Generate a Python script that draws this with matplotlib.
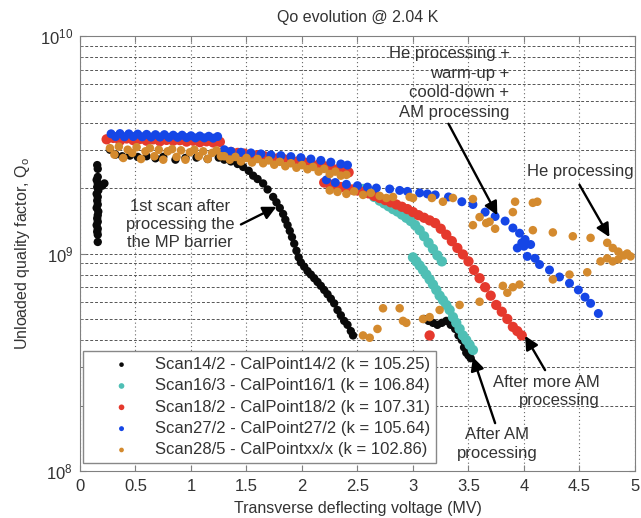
import matplotlib
matplotlib.use("Agg")
import matplotlib.pyplot as plt
from matplotlib.ticker import FixedLocator, FuncFormatter, LogLocator, NullFormatter

plt.rcParams['font.family'] = ['Liberation Sans', 'DejaVu Sans']
plt.rcParams['mathtext.default'] = 'regular'

title = "Qo evolution @ 2.04 K"
xlabel = "Transverse deflecting voltage (MV)"
ylabel = "Unloaded quality factor, Q$_o$"
xticks = [0, 0.5, 1, 1.5, 2, 2.5, 3, 3.5, 4, 4.5, 5]

labels = ["Scan14/2 - CalPoint14/2 (k = 105.25)",
          "Scan16/3 - CalPoint16/1 (k = 106.84)",
          "Scan18/2 - CalPoint18/2 (k = 107.31)",
          "Scan27/2 - CalPoint27/2 (k = 105.64)",
          "Scan28/5 - CalPointxx/x (k = 102.86)"]
colors = ["#0a0a0a", "#4fbfb5", "#e5392d", "#1546e6", "#d48a2e"]

# --- Scan14/2 (black), Q in units of 1e9
black_x = [0.155, 0.16, 0.16, 0.15, 0.16, 0.155, 0.165, 0.15, 0.16, 0.155, 0.16, 0.15, 0.165, 0.16, 0.155,
           0.16, 0.15, 0.16, 0.155, 0.16, 0.20, 0.22, 0.16,
           0.27, 0.32, 0.38, 0.45, 0.52, 0.60, 0.68, 0.75, 0.86, 0.95, 1.05, 1.15, 1.25, 1.30,
           1.36, 1.42, 1.47, 1.52, 1.56, 1.60, 1.65, 1.69, 1.74, 1.77, 1.80, 1.83, 1.85, 1.87, 1.89, 1.91,
           1.93, 1.95, 1.97, 1.99, 2.02, 2.05, 2.08, 2.11, 2.14, 2.17, 2.20, 2.23, 2.26, 2.29, 2.32, 2.35,
           2.38, 2.41, 2.44, 2.46,
           3.10, 3.14, 3.18, 3.22, 3.26, 3.30, 3.34, 3.38, 3.41, 3.44, 3.46, 3.48, 3.50, 3.52, 3.47, 3.50]
black_q = [2.55, 2.45, 2.25, 2.18, 2.10, 2.02, 1.95, 1.88, 1.82, 1.75, 1.68, 1.62, 1.56, 1.50, 1.45,
           1.40, 1.35, 1.30, 1.26, 1.22, 2.05, 2.10, 1.13,
           3.00, 2.85, 2.80, 2.82, 2.78, 2.80, 2.74, 2.78, 2.70, 2.75, 2.76, 2.72, 2.76, 2.70,
           2.65, 2.58, 2.50, 2.40, 2.28, 2.20, 2.10, 1.97, 1.82, 1.72, 1.62, 1.52, 1.43, 1.35, 1.27, 1.19,
           1.11, 1.03, 0.96, 0.91, 0.87, 0.83, 0.80, 0.77, 0.74, 0.71, 0.68, 0.65, 0.62, 0.59, 0.55, 0.52,
           0.49, 0.47, 0.44, 0.42,
           0.50, 0.49, 0.48, 0.47, 0.48, 0.49, 0.47, 0.45, 0.42, 0.40, 0.37, 0.35, 0.34, 0.33, 0.38, 0.36]

# --- Scan16/3 (teal)
teal_x = [2.55, 2.60, 2.65, 2.70, 2.74, 2.78, 2.82, 2.86, 2.90, 2.94, 2.98, 3.02, 3.06, 3.10, 3.14, 3.18, 3.22, 3.26,
          3.00, 3.03, 3.06, 3.09, 3.12, 3.15, 3.18, 3.21, 3.24, 3.27, 3.30, 3.33, 3.36, 3.39, 3.42, 3.45, 3.48, 3.51, 3.54]
teal_q = [1.98, 1.90, 1.82, 1.75, 1.70, 1.65, 1.60, 1.56, 1.51, 1.46, 1.41, 1.35, 1.28, 1.20, 1.12, 1.05, 0.98, 0.92,
          0.96, 0.92, 0.88, 0.84, 0.80, 0.76, 0.72, 0.68, 0.64, 0.61, 0.58, 0.55, 0.51, 0.48, 0.45, 0.42, 0.40, 0.38, 0.36]

# --- Scan18/2 (red)
red_x = [0.24, 0.30, 0.36, 0.42, 0.48, 0.54, 0.60, 0.66, 0.72, 0.78, 0.84, 0.90, 0.96, 1.02, 1.08, 1.14, 1.20, 1.26,
         1.30, 1.36, 1.42, 1.48, 1.54, 1.60, 1.66, 1.72, 1.78, 1.84, 1.90, 1.96, 2.02, 2.08, 2.14, 2.20, 2.26, 2.32,
         2.38, 2.42,
         2.20, 2.25, 2.30, 2.35, 2.40, 2.45, 2.50, 2.55, 2.60, 2.65, 2.70, 2.75, 2.80, 2.85, 2.90, 2.95, 3.00, 3.05,
         3.10, 3.15, 3.20, 3.25, 3.30, 3.35, 3.40, 3.45, 3.50, 3.55, 3.60, 3.65, 3.70, 3.75, 3.80, 3.85, 3.90, 3.94,
         3.98, 3.15]
red_q = [3.35, 3.40, 3.30, 3.38, 3.32, 3.36, 3.30, 3.35, 3.28, 3.33, 3.30, 3.32, 3.27, 3.30, 3.25, 3.28, 3.24, 3.26,
         2.95, 2.93, 2.90, 2.88, 2.85, 2.83, 2.80, 2.77, 2.74, 2.71, 2.68, 2.65, 2.62, 2.58, 2.55, 2.52, 2.48, 2.44,
         2.40, 2.36,
         2.12, 2.08, 2.05, 2.02, 1.99, 1.97, 1.95, 1.92, 1.89, 1.84, 1.80, 1.76, 1.72, 1.68, 1.64, 1.60, 1.55, 1.50,
         1.46, 1.42, 1.38, 1.30, 1.22, 1.14, 1.06, 0.99, 0.92, 0.84, 0.77, 0.70, 0.64, 0.58, 0.54, 0.50, 0.46, 0.44,
         0.42, 0.42]

# --- Scan27/2 (blue)
blue_x = [0.28, 0.32, 0.36, 0.40, 0.44, 0.48, 0.52, 0.56, 0.60, 0.64, 0.68, 0.72, 0.76, 0.80, 0.84, 0.88, 0.92,
          0.96, 1.00, 1.04, 1.08, 1.12, 1.16, 1.20, 1.24,
          1.30, 1.36, 1.45, 1.54, 1.63, 1.72, 1.81, 1.90, 1.99, 2.08, 2.17, 2.26, 2.35, 2.41,
          2.22, 2.30, 2.40, 2.50, 2.59, 2.67, 2.79, 2.88, 2.95, 3.06, 3.13, 3.20, 3.32, 3.44, 3.54, 3.65, 3.74,
          3.83, 3.90, 3.96, 4.01, 3.94, 4.00, 4.03, 3.98, 4.06, 4.10, 4.14, 4.23, 4.32, 4.41, 4.49, 4.55, 4.60, 4.67]
blue_q = [3.55, 3.45, 3.56, 3.44, 3.55, 3.45, 3.54, 3.44, 3.53, 3.43, 3.52, 3.43, 3.52, 3.42, 3.50, 3.42, 3.50,
          3.41, 3.48, 3.40, 3.47, 3.40, 3.46, 3.39, 3.45,
          3.00, 2.95, 2.92, 2.90, 2.87, 2.84, 2.82, 2.79, 2.76, 2.72, 2.68, 2.63, 2.58, 2.55,
          2.18, 2.12, 2.08, 2.05, 2.02, 2.00, 1.98, 1.95, 1.93, 1.90, 1.88, 1.86, 1.82, 1.73, 1.68, 1.55, 1.48,
          1.41, 1.31, 1.24, 1.16, 1.06, 1.08, 0.97, 1.12, 1.10, 0.95, 0.89, 0.84, 0.78, 0.73, 0.68, 0.63, 0.59, 0.53]

# --- Scan28/5 (orange)
orange_x = [0.27, 0.31, 0.35, 0.39, 0.43, 0.47, 0.51, 0.55, 0.59, 0.63, 0.67, 0.71, 0.75, 0.79, 0.83, 0.87, 0.91,
            0.95, 0.99, 1.03, 1.07, 1.11, 1.15, 1.19, 1.23, 1.27,
            1.30, 1.35, 1.40, 1.45, 1.50, 1.55, 1.60, 1.65, 1.70, 1.75, 1.80, 1.85, 1.90, 1.95, 2.00, 2.05, 2.10,
            2.15, 2.20, 2.25, 2.30, 2.35, 2.40,
            2.25, 2.32, 2.40, 2.47, 2.55, 2.62, 2.70,
            2.76, 2.82, 2.97, 3.00, 3.17, 3.27, 3.36, 3.54, 3.54, 3.60, 3.66, 3.74, 3.69, 3.90, 3.92, 4.08, 4.12,
            4.08, 4.26, 4.44, 4.60, 4.75, 4.80, 4.85, 4.90, 4.93, 4.96, 4.80, 4.85, 4.75, 4.69, 4.57, 4.41, 4.26,
            3.81, 3.85, 3.90, 3.96,
            2.55, 2.61, 2.68, 2.73, 2.88, 2.91, 2.94, 3.09, 3.15, 3.24, 3.42, 3.60]
orange_q = [3.05, 2.85, 3.10, 2.75, 3.00, 2.90, 3.08, 2.72, 2.95, 3.05, 2.80, 3.00, 2.70, 2.95, 3.02, 2.78, 2.98,
            2.70, 2.92, 3.00, 2.80, 2.95, 2.72, 2.90, 2.98, 2.80,
            2.80, 2.70, 2.78, 2.65, 2.75, 2.62, 2.72, 2.60, 2.68, 2.56, 2.64, 2.52, 2.60, 2.48, 2.55, 2.44, 2.50,
            2.38, 2.45, 2.32, 2.38, 2.28, 2.30,
            1.95, 1.92, 1.88, 1.93, 1.86, 1.90, 1.84,
            1.80, 1.82, 1.82, 1.80, 1.80, 1.73, 1.80, 1.78, 1.35, 1.47, 1.38, 1.30, 1.40, 1.55, 1.73, 1.71, 1.73,
            1.28, 1.25, 1.20, 1.18, 1.12, 1.06, 1.02, 0.98, 1.00, 0.97, 0.92, 0.94, 0.95, 0.92, 0.82, 0.80, 0.76,
            0.71, 0.66, 0.70, 0.72,
            0.42, 0.41, 0.45, 0.56, 0.56, 0.49, 0.48, 0.50, 0.51, 0.55, 0.58, 0.60]

series = [(black_x, black_q), (teal_x, teal_q), (red_x, red_q), (blue_x, blue_q), (orange_x, orange_q)]
sizes = [36, 55, 55, 42, 38]

fig = plt.figure(figsize=(6.41, 5.18), dpi=100)
ax = fig.add_axes([0.1248, 0.0907, 0.8658, 0.8398])

for (xs, qs), c, s, lab in zip(series, colors, sizes, labels):
    ax.scatter(xs, [q * 1e9 for q in qs], s=s, color=c, edgecolors='none', label=lab, zorder=3)

ax.set_yscale('log')
ax.set_xlim(0, 5)
ax.set_ylim(1e8, 1e10)
ax.xaxis.set_major_locator(FixedLocator(xticks))
ax.xaxis.set_major_formatter(FuncFormatter(lambda v, p: "%g" % v))
ax.yaxis.set_major_locator(LogLocator(base=10, numticks=5))
ax.yaxis.set_minor_locator(LogLocator(base=10, subs=range(2, 10), numticks=20))
ax.yaxis.set_minor_formatter(NullFormatter())

ax.grid(which='major', axis='x', linestyle=(0, (1, 2.5)), color='#666666', lw=0.8, zorder=0)
ax.grid(which='both', axis='y', linestyle=(0, (3, 2)), color='#555555', lw=0.7, zorder=0)
ax.set_axisbelow(True)

for sp in ax.spines.values():
    sp.set_color('#808080')
ax.tick_params(which='both', direction='in', top=True, right=True, colors='#808080',
               labelcolor='#333333', labelsize=12)
ax.tick_params(axis='x', which='major', length=4, pad=6)
ax.tick_params(axis='y', which='major', length=4, pad=5)
ax.tick_params(which='minor', length=2)

ax.set_title(title, fontsize=11.5, color='#333333', pad=10)
ax.set_xlabel(xlabel, fontsize=11.5, color='#333333', labelpad=5)
ax.set_ylabel(ylabel, fontsize=11.5, color='#333333', labelpad=6)

leg = ax.legend(loc='lower left', bbox_to_anchor=(0.005, 0.018), fontsize=12, frameon=True, fancybox=False,
                edgecolor='#888888', framealpha=1, handletextpad=0.05, handlelength=3.95, borderpad=0.35,
                labelspacing=0.38, markerscale=0.55, scatterpoints=1, borderaxespad=0)
for t in leg.get_texts():
    t.set_color('#333333')
leg.get_frame().set_linewidth(1.0)
leg.set_zorder(5)

txtc = '#333333'
arrow = dict(arrowstyle='-|>', color='black', lw=1.7, mutation_scale=20, shrinkA=0, shrinkB=0)
fs = 12

ax.text(0.9, 1.36e9, "1st scan after\nprocessing the\nthe MP barrier", ha='center', va='center',
        fontsize=fs, color=txtc, linespacing=1.25, zorder=6)
ax.annotate('', xy=(1.77, 1.64e9), xytext=(1.45, 1.36e9), arrowprops=arrow, zorder=6)

ax.text(3.87, 9.0e9, "He processing +\nwarm-up +\ncoold-down +\nAM processing", ha='right', va='top',
        fontsize=fs, color=txtc, linespacing=1.38, zorder=6)
ax.annotate('', xy=(3.76, 1.5e9), xytext=(3.32, 3.95e9), arrowprops=arrow, zorder=6)

ax.text(4.03, 2.37e9, "He processing", ha='left', va='center', fontsize=fs, color=txtc, zorder=6)
ax.annotate('', xy=(4.77, 1.19e9), xytext=(4.5, 2.07e9), arrowprops=arrow, zorder=6)

ax.text(4.68, 2.31e8, "After more AM\nprocessing", ha='right', va='center', fontsize=fs, color=txtc,
        linespacing=1.25, zorder=6)
ax.annotate('', xy=(4.01, 4.18e8), xytext=(4.19, 2.91e8), arrowprops=arrow, zorder=6)

ax.text(3.76, 1.33e8, "After AM\nprocessing", ha='center', va='center', fontsize=fs, color=txtc,
        linespacing=1.3, zorder=6)
ax.annotate('', xy=(3.54, 3.34e8), xytext=(3.74, 1.66e8), arrowprops=arrow, zorder=6)

fig.savefig("out.png", dpi=100)
